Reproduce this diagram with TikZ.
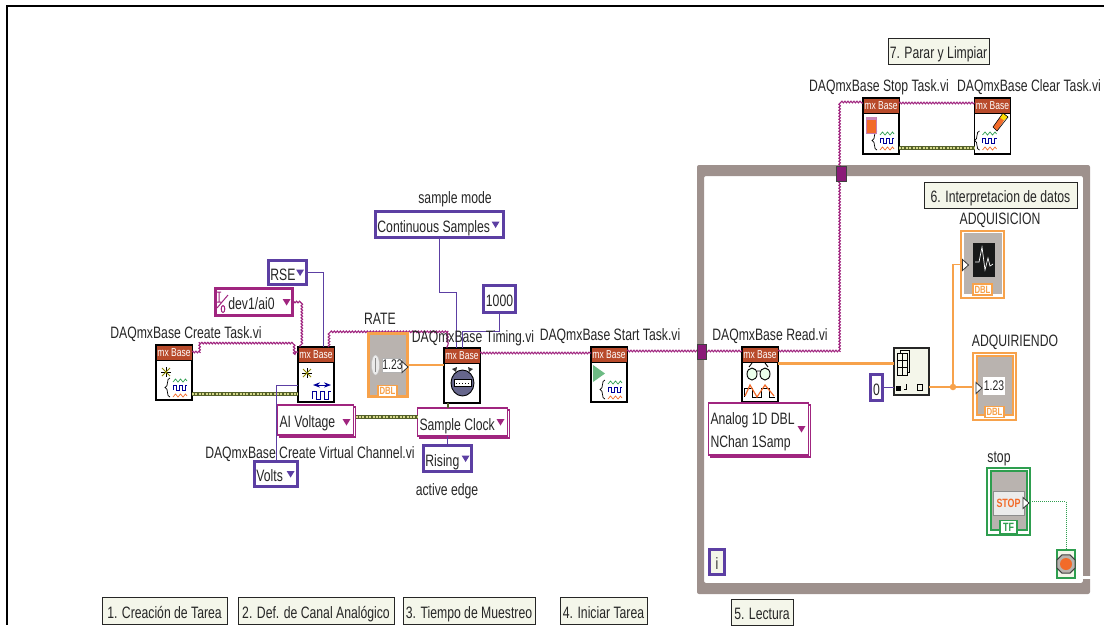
\documentclass[tikz,border=0pt]{standalone}
\usepackage{fontspec}
\setmainfont[FakeStretch=0.74]{Liberation Sans}
\usetikzlibrary{shapes.geometric, arrows.meta, positioning, calc, decorations.pathmorphing, shadows}
\definecolor{LV_Plum}{HTML}{A0257F}
\definecolor{LV_PlumDark}{HTML}{8A1A78}
\definecolor{LV_Violet}{HTML}{5C3FA3}
\definecolor{LV_Orange}{HTML}{F7A24B}
\definecolor{LV_OrangeDeep}{HTML}{F26B2A}
\definecolor{LV_Green}{HTML}{2E9E4F}
\definecolor{LV_Loop}{HTML}{9E918D}
\definecolor{LV_Grey}{HTML}{B9B3AF}
\definecolor{LV_Head}{HTML}{B84A2A}
\definecolor{LV_Note}{HTML}{F4F6EA}
\definecolor{LV_Olive}{HTML}{55612A}
\definecolor{LV_OliveLight}{HTML}{D4D88A}
\definecolor{LV_Ink}{HTML}{262626}

\begin{document}
\begin{tikzpicture}[
    x=1pt, y=-1pt,
    every node/.style={outer sep=0pt},
    vi/.style={draw=black, line width=1.1pt, fill=white, minimum width=36pt, minimum height=55pt, inner sep=0pt},
    mxhead/.style={anchor=north, fill=LV_Head, draw=black, line width=0.5pt, minimum width=36pt, minimum height=15pt, inner sep=0pt, text=white, font=\fontsize{11.5}{12}\selectfont},
    vilabel/.style={inner sep=0pt, text=LV_Ink, text height=11pt, text depth=0pt, font=\fontsize{16.5}{18}\selectfont},
    notebox/.style={draw=LV_Ink, line width=1pt, fill=LV_Note, inner sep=0pt, text=LV_Ink, text height=15pt, text depth=0pt, font=\fontsize{16.5}{18}\selectfont},
    constbox/.style={draw=LV_Violet, line width=2.8pt, fill=white, inner xsep=2pt, inner ysep=0pt, text=LV_Ink, text height=15pt, text depth=0pt, align=flush left, font=\fontsize{16.5}{18}\selectfont},
    ringbox/.style={draw=LV_Plum, line width=2.8pt, fill=white, inner xsep=2pt, inner ysep=0pt, text=LV_Ink, text height=15pt, text depth=0pt, align=flush left, font=\fontsize{16.5}{18}\selectfont},
    polybox/.style={draw=LV_Plum, line width=1.1pt, fill=white, inner xsep=2pt, inner ysep=0pt, text=LV_Ink, align=flush left, font=\fontsize{16.5}{18}\selectfont,
        copy shadow={shadow xshift=2pt, shadow yshift=-2pt, draw=LV_Plum, fill=white}},
    ctlouter/.style={draw=#1, line width=1.5pt, fill=white, minimum width=43pt, minimum height=67pt, inner sep=0pt},
    ctlinner/.style={draw=#1, line width=2pt, fill=LV_Grey, minimum width=36pt, minimum height=59pt, inner sep=0pt},
    ctltab/.style={draw=#1, line width=1.2pt, fill=white, text=#1, inner sep=0pt, minimum width=19pt, minimum height=11pt, font=\fontsize{10.5}{11}\bfseries\selectfont},
    tunnel/.style={draw=black!75, line width=0.8pt, fill=LV_PlumDark, minimum width=10pt, minimum height=15pt, inner sep=0pt},
    refwire/.style={draw=LV_Plum, line width=1.1pt, decorate, decoration={snake, segment length=3pt, amplitude=0.8pt}},
    enumwire/.style={draw=LV_Violet, line width=0.9pt},
    numwire/.style={draw=LV_Orange, line width=1.4pt},
    arraywire/.style={draw=LV_Orange, line width=3pt},
    stopwire/.style={draw=LV_Green, line width=1pt, densely dotted},
    errwire/.style={draw=LV_OliveLight, line width=2pt, dash pattern=on 2pt off 1.4pt, preaction={draw=LV_Olive, line width=4pt, solid}},
    taskglyph/.pic={
        \draw[black, line width=0.7pt] (14,33) .. controls (10,33) and (13,42) .. (9,42.5) .. controls (13,43) and (10,52) .. (14,52);
        \draw[LV_Green, line width=0.7pt] (17,37) -- (19.5,34) -- (22,37) -- (24.5,34) -- (27,37) -- (29.5,34) -- (31,36);
        \draw[blue!60!black, line width=0.9pt] (17,45) -- (17,40) -- (20,40) -- (20,45) -- (23,45) -- (23,40) -- (26,40) -- (26,45) -- (29,45) -- (29,40) -- (31,40);
        \draw[LV_OrangeDeep, line width=0.7pt] (17,52) -- (19.5,49) -- (22,52) -- (24.5,49) -- (27,52) -- (29.5,49) -- (31,51);
    },
    sparkmark/.pic={
        \draw[black, line width=0.7pt] (-5,0) -- (5,0) (0,-5) -- (0,5);
        \draw[olive, line width=0.8pt] (-4,-4) -- (4,4) (-4,4) -- (4,-4);
    },
    dropmark/.pic={\fill (-4,-3) -- (4,-3) -- (0,3.5) -- cycle;},
    termmark/.pic={\draw[black!80, fill=white, line width=0.8pt] (-3,-5.5) -- (3,0) -- (-3,5.5) -- cycle;}
]
\useasboundingbox (0,0) rectangle (1104,625);
\draw[black, line width=2pt] (1104,6) -- (7,6) -- (7,625);

\fill[LV_Loop, even odd rule, rounded corners=2pt] (697,165) rectangle (1090,594) (704,176) rectangle (1083,583);
\fill[white] (1082,576) rectangle (1091,579);

\node[vi] (taskcreate) at (174,372.5) {};
\node[vi] (chancreate) at (316,374.5) {};
\node[vi] (timing) at (462,375.5) {};
\node[vi] (taskstart) at (609,374.5) {};
\node[vi] (taskread) at (760,374.5) {};
\node[vi, minimum height=56pt] (taskstop) at (881,126) {};
\node[vi, minimum height=56pt] (taskclear) at (992.5,126) {};
\node[mxhead] (taskcreatehead) at (taskcreate.north) {mx Base};
\node[mxhead] (chancreatehead) at (chancreate.north) {mx Base};
\node[mxhead] (timinghead) at (timing.north) {mx Base};
\node[mxhead] (taskstarthead) at (taskstart.north) {mx Base};
\node[mxhead] (taskreadhead) at (taskread.north) {mx Base};
\node[mxhead] (taskstophead) at (taskstop.north) {mx Base};
\node[mxhead] (taskclearhead) at (taskclear.north) {mx Base};

\pic at (taskcreate.north west) {taskglyph};
\pic at (taskstart.north west) {taskglyph};
\pic at (taskstop.north west) {taskglyph};
\pic at ([xshift=-9pt]taskclear.north west) {taskglyph};
\pic at (166,372) {sparkmark};
\pic at (307,373) {sparkmark};

\draw[blue!60!black, line width=0.9pt, <->, >=Stealth] (313,385) -- (331,385);
\draw[blue!60!black, line width=0.9pt] (312,399) -- (312,391) -- (316,391) -- (316,399) -- (320,399) -- (320,391) -- (324,391) -- (324,399) -- (328,399) -- (328,391) -- (331,391);

\fill[black!80] (452,369) -- (457,367) -- (456,372) -- cycle;
\fill[black!80] (473,369) -- (468,367) -- (469,372) -- cycle;
\draw[black, line width=0.9pt, fill=blue!25!black!60] (462.5,383) ellipse (11.5 and 13);
\draw[black, line width=0.7pt, fill=white] (454,379.5) rectangle (471,386.5);
\draw[black, line width=1pt, dotted] (456,383) -- (469,383);

\fill[LV_Green!70] (593,365) -- (605,373.5) -- (593,382) -- cycle;

\draw[LV_Plum!60, line width=0.5pt, fill=LV_OrangeDeep] (866,117) rectangle (876,133);
\fill[LV_Plum!55] (866,117) rectangle (876,120);

\fill[LV_OrangeDeep] (993,127) -- (1001,116) -- (1005,119) -- (997,131) -- cycle;
\fill[yellow!80!orange] (1000,117.5) -- (1003,113) -- (1008,117) -- (1004,120.5) -- cycle;
\draw[black, line width=0.6pt] (993,127) -- (1003,113) -- (1008,117) -- (997,131) -- cycle;

\draw[black, line width=0.9pt, fill=green!8] (752,374) ellipse (5 and 6);
\draw[black, line width=0.9pt, fill=green!8] (765,374) ellipse (5 and 6);
\draw[black, line width=0.9pt] (757,371) -- (760,371) (749,367) -- (752,363) (768,367) -- (765,363);
\draw[black, line width=0.9pt] (744,397) -- (744,388) -- (752,388) -- (752,397) -- (761,397) -- (761,388) -- (769,388) -- (769,397) -- (775,397);
\draw[LV_OrangeDeep, line width=1.2pt] (745,396) -- (750,385) -- (757,397) -- (765,385) -- (774,396);

\node[draw=black!85, line width=1.1pt, fill=LV_Note, minimum width=35pt, minimum height=47pt, inner sep=0pt] (arrayget) at (911.5,371.5) {};
\draw[black, line width=0.7pt, fill=LV_Note] (900,350.5) rectangle (909,372);
\draw[black, line width=0.7pt, fill=LV_Note] (897,353) rectangle (907,375);
\draw[black, line width=0.7pt] (897,360) -- (907,360) (897,367.5) -- (907,367.5) (902,353) -- (902,375);
\fill[black] (896,386) rectangle (901,391);
\draw[black, line width=0.7pt] (904,389) -- (907,389) (906,389) -- (906,384);
\draw[black, line width=0.8pt] (917,384) rectangle (922,390);

\coordinate (createout) at ([yshift=-7pt]taskcreate.north east);
\coordinate (chanin) at ([yshift=-5pt]chancreate.north west);
\coordinate (chanout) at ([xshift=31pt]chancreate.north west);
\coordinate (timingin) at ([xshift=3pt]timing.north west);
\coordinate (errout) at ([yshift=-49pt]taskcreate.north east);

\draw[errwire] (errout) -- (errout -| chancreate.west);
\draw[refwire] (createout) -| (200,342) -| (295,352) -- (chanin);
\draw[refwire] (chanout) -- ++(0,-14) -| (timingin);

\node[draw=LV_Orange, line width=3.5pt, fill=LV_Grey, minimum width=39pt, minimum height=63pt, inner sep=0pt] (ratectl) at (388,365) {};
\node[ctltab=LV_Orange] (ratetab) at (387.5,391) {DBL};
\node[draw=black!30, fill=white, minimum width=19pt, minimum height=14pt, inner sep=0pt, font=\fontsize{14}{14}\selectfont, text=LV_Ink] (ratefield) at (392.5,365) {1.23};
\draw[black!25, fill=black!8] (375.5,365) ellipse (4 and 10);
\draw[black!45, line width=0.5pt] (375.5,358) -- (375.5,372);
\pic at (405,367) {termmark};

\node[ctlouter=LV_Orange] (adqlevel) at (994.5,386.5) {};
\node[ctlinner=LV_Orange] (adqlevelgrey) at (994.5,385.5) {};
\node[ctltab=LV_Orange] (adqleveltab) at (994.5,412) {DBL};
\node[fill=white, minimum width=22pt, minimum height=18pt, inner sep=0pt, font=\fontsize{14}{14}\selectfont, text=LV_Ink] (adqlevelfield) at (994,386) {1.23};
\pic at (979,388) {termmark};

\node[ctlouter=LV_Orange] (adqgraph) at (982.5,264.5) {};
\node[ctlinner=LV_Grey] (adqgraphgrey) at (982.5,263.5) {};
\node[fill=black!90, minimum width=22pt, minimum height=34pt, inner sep=0pt] (adqscreen) at (983.5,260) {};
\draw[white, line width=0.7pt] (975,262) -- (979,262) -- (982,247) -- (985,270) -- (988,258) -- (990,266) -- (993,264);
\node[ctltab=LV_Orange] (adqgraphtab) at (982.5,289.5) {DBL};
\pic at (965.5,265) {termmark};

\node[ctlouter=LV_Green] (stopctl) at (1008.5,501.5) {};
\node[ctlinner=LV_Green] (stopgrey) at (1008.5,500.5) {};
\node[draw=black!45, line width=1pt, fill=black!8, minimum width=31pt, minimum height=24pt, inner sep=0pt, text=LV_OrangeDeep, font=\fontsize{12}{12}\bfseries\selectfont] (stopbutton) at (1008.5,503) {STOP};
\node[ctltab=LV_Green, minimum width=17pt, minimum height=13pt, font=\fontsize{12}{12}\bfseries\selectfont] (stoptab) at (1008.5,527) {TF};
\pic at (1026,503) {termmark};

\node[draw=LV_Green, line width=1.1pt, fill=LV_Note, minimum width=18pt, minimum height=28pt, inner sep=0pt] (stopterm) at (1066,564) {};
\node[regular polygon, regular polygon sides=8, draw=black!75, line width=1pt, fill=LV_Grey, minimum size=20pt, inner sep=0pt] (stophalt) at (stopterm.center) {};
\node[circle, fill=LV_OrangeDeep, minimum size=12pt, inner sep=0pt] (stopdisc) at (stopterm.center) {};

\node[constbox, text width=34.2pt, minimum height=24.2pt] (rsebox) at (287.5,272.5) {RSE};
\node[ringbox, text width=73.2pt, minimum height=27.2pt] (devbox) at (254,302) {\hspace*{11pt}dev1/ai0};
\node[constbox, text width=39.2pt, minimum height=25.2pt] (voltsbox) at (276,474) {Volts};
\node[constbox, text width=124.2pt, minimum height=26.2pt] (contbox) at (439.5,224.5) {Continuous Samples};
\node[constbox, text width=28.2pt, minimum height=27.2pt, align=center] (thousandbox) at (499.5,299) {1000};
\node[constbox, text width=44.2pt, minimum height=26.2pt] (risingbox) at (447.5,458.5) {Rising};
\node[constbox, text width=8.2pt, minimum height=26.2pt, align=center] (zerobox) at (876.5,387.5) {0};
\node[constbox, text width=11.2pt, minimum height=25.2pt, align=center, fill=LV_Note] (loopindex) at (717,562) {i};
\node[polybox, text width=72pt, minimum height=30pt, text height=15pt, text depth=0pt] (aibox) at (315.5,420) {AI Voltage};
\node[polybox, text width=86pt, minimum height=28pt, text height=16pt, text depth=0pt] (clockbox) at (462.5,422) {Sample Clock};
\node[polybox, text width=96pt, minimum height=52pt] (readbox) at (758.5,429) {\rule{0pt}{17pt}Analog 1D DBL\\[5pt]NChan 1Samp};

\draw[LV_Plum, line width=1pt] (219,292) -- (219,302) (217,292) -- (221,292) (217,302) -- (221,302) (217,308) -- (228,295);
\draw[LV_Plum, line width=1pt] (223,309) ellipse (1.8 and 3.5);

\pic[LV_Violet] at ([xshift=-6.5pt]rsebox.east) {dropmark};
\pic[LV_Plum] at ([xshift=-6pt]devbox.east) {dropmark};
\pic[LV_Violet] at ([xshift=-7pt]voltsbox.east) {dropmark};
\pic[LV_Violet] at ([xshift=-8pt]contbox.east) {dropmark};
\pic[LV_Violet] at ([xshift=-6pt]risingbox.east) {dropmark};
\pic[LV_Plum] at ([xshift=-7pt,yshift=-2pt]aibox.east) {dropmark};
\pic[LV_Plum] at ([xshift=-7pt]clockbox.east) {dropmark};
\pic[LV_Plum] at ([xshift=-7pt]readbox.east) {dropmark};

\coordinate (aiout) at ([xshift=2pt,yshift=3pt]aibox.east);
\coordinate (clockup) at ([xshift=4pt]timing.south west);
\coordinate (timingout) at ([yshift=-5pt]timing.north east);
\coordinate (startout) at ([yshift=-4pt]taskstart.north east);
\coordinate (readout) at ([yshift=-4pt]taskread.north east);
\coordinate (readdata) at ([yshift=-16pt]taskread.north east);
\coordinate (stopin) at ([yshift=-5pt]taskstop.north west);
\coordinate (stopout) at ([yshift=-5pt]taskstop.north east);
\coordinate (stoperr) at ([yshift=-50pt]taskstop.north east);

\draw[refwire] (devbox.east) -| ([xshift=2pt]chancreate.north west);
\draw[enumwire] (rsebox.east) -| ([xshift=25pt]chancreate.north west);
\draw[enumwire] (voltsbox.north) |- ([yshift=-38pt]chancreate.north west);
\draw[enumwire] (contbox.south) -- ++(0,55) -| ([xshift=12pt]timing.north west);
\draw[enumwire] (thousandbox.south) -- ++(0,19) -| ([xshift=18pt]timing.north west);
\draw[enumwire] (risingbox.north) -- (risingbox.north |- clockbox.south);
\draw[enumwire] (zerobox.east) -- (zerobox.east -| arrayget.west);
\draw[errwire] (aiout) -- (aiout -| clockbox.west);
\draw[LV_Olive, line width=2pt] (clockup) -- (clockup |- clockbox.north);
\draw[numwire] (ratectl.east) -- (ratectl.east -| timing.west);
\draw[refwire] (timingout) -- (timingout -| taskstart.west);
\draw[refwire] (startout) -- (startout -| taskread.west);
\draw[refwire] (readout) -- ++(62,0) |- (stopin);
\draw[refwire] (stopout) -- (stopout -| taskclear.west);
\draw[errwire] (stoperr) -- (stoperr -| taskclear.west);
\draw[arraywire] (readdata) -- (readdata -| arrayget.west);
\node[circle, fill=LV_Orange, minimum size=6.5pt, inner sep=0pt] (arraytee) at (953,387) {};
\draw[numwire] (arraytee -| arrayget.east) -- (arraytee) -- (arraytee -| adqlevel.west);
\draw[numwire] (arraytee) |- (adqgraph.west);
\draw[stopwire] (stopctl.east) -| (stopterm.north);

\node[tunnel, minimum width=9pt] (tunnelleft) at (701.5,352) {};
\node[tunnel] (tunneltop) at (841,173.5) {};

\node[vilabel] (taskcreatelabel) at (186,332.5) {DAQmxBase Create Task.vi};
\node[vilabel] (chancreatelabel) at (310,452.5) {DAQmxBase Create Virtual Channel.vi};
\node[vilabel] (timinglabel) at (473,336.5) {DAQmxBase Timing.vi};
\node[vilabel] (taskstartlabel) at (610,334.5) {DAQmxBase Start Task.vi};
\node[vilabel] (taskreadlabel) at (770,334.5) {DAQmxBase Read.vi};
\node[vilabel] (taskstoplabel) at (879,86) {DAQmxBase Stop Task.vi};
\node[vilabel] (taskclearlabel) at (1029,86) {DAQmxBase Clear Task.vi};
\node[vilabel] (modelabel) at (455,198) {sample mode};
\node[vilabel] (edgelabel) at (447,490) {active edge};
\node[vilabel] (ratelabel) at (380,319) {RATE};
\node[vilabel] (adqgraphlabel) at (1000,219) {ADQUISICION};
\node[vilabel] (adqlevellabel) at (1015,341) {ADQUIRIENDO};
\node[vilabel] (stoplabel) at (999,457) {stop};

\node[notebox, minimum width=125pt, minimum height=27pt] (noteone) at (164.5,611) {1. Creación de Tarea};
\node[notebox, minimum width=156pt, minimum height=27pt] (notetwo) at (316,611) {2. Def. de Canal Analógico};
\node[notebox, minimum width=132pt, minimum height=27pt] (notethree) at (469,611) {3. Tiempo de Muestreo};
\node[notebox, minimum width=87pt, minimum height=27pt] (notefour) at (603.5,611) {4. Iniciar Tarea};
\node[notebox, minimum width=62pt, minimum height=26pt] (notefive) at (762,612) {5. Lectura};
\node[notebox, minimum width=153pt, minimum height=26pt] (notesix) at (1000.5,195) {6. Interpretacion de datos};
\node[notebox, minimum width=101pt, minimum height=26pt] (noteseven) at (938.5,51) {7. Parar y Limpiar};
\end{tikzpicture}
\end{document}
